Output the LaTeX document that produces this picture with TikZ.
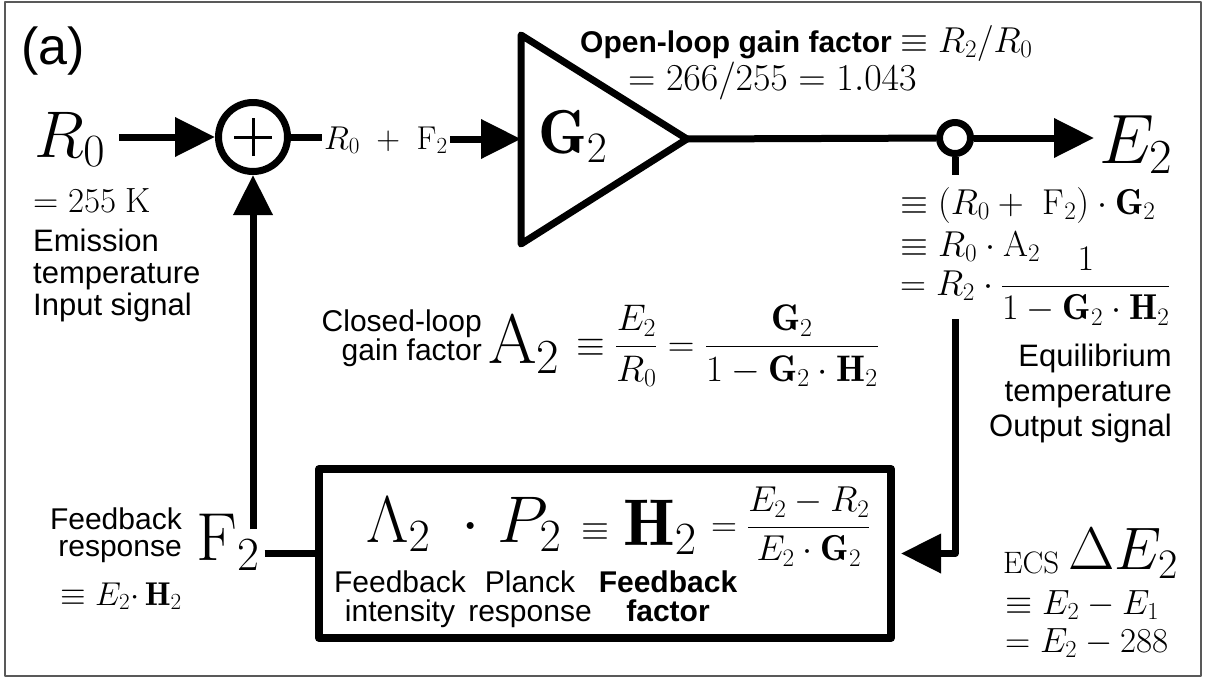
\RequirePackage{fix-cm}
\documentclass[tikz,border=0pt]{standalone}
\usepackage{amsmath}
\usepackage{fontspec}
\newfontfamily\labelfont{Liberation Sans}
\newcommand{\fsz}[1]{\fontsize{#1}{#1}\selectfont}
\usetikzlibrary{arrows.meta}

\begin{document}
\begin{tikzpicture}[x=1pt,y=-1pt,line join=round,
  >={Triangle[length=40pt,width=38pt]},
  every node/.style={inner sep=1pt},
  wire/.style={line width=7pt},
  flow/.style={line width=7pt,->},
  sans/.style={font=\labelfont\fontsize{30}{29}\selectfont},
  sansbf/.style={font=\labelfont\bfseries\fontsize{30}{29}\selectfont}]
  \useasboundingbox (0,0) rectangle (1205,680);
  \draw[black!65,line width=1.5pt] (5,2) rectangle (1201,676);

  % input side
  \node[font=\labelfont\fsz{52},anchor=base west] (tag) at (20,64) {(a)};
  \node[font=\fsz{66},anchor=base west,inner sep=0pt] (R0) at (34,157) {$R_0$};
  \node[font=\fsz{35},anchor=base west,inner sep=0pt] (R0val) at (33,212) {$=255\;\mathrm{K}$};
  \node[font=\labelfont\fontsize{31}{32}\selectfont,align=left,anchor=north west,inner sep=0pt] (R0txt) at (33,229) {Emission\\temperature\\Input signal};

  % summing point
  \node[circle,draw,line width=7pt,minimum size=69pt,inner sep=0pt] (sum) at (253,137) {};
  \draw[line width=3pt] ([xshift=-19pt]sum.center) -- ([xshift=19pt]sum.center)
    ([yshift=-19pt]sum.center) -- ([yshift=19pt]sum.center);
  \draw[flow] ([xshift=14pt]R0.east |- sum) -- (sum);
  \node[font=\fsz{33},anchor=base west,inner sep=2pt] (sumlbl) at (322,149) {$R_0\;+\;\mathrm{F}_2$};
  \draw[wire] (sum.east) -- (sum.east -| sumlbl.west);

  % open-loop gain
  \coordinate (ampin) at (521,139);
  \coordinate (amptip) at (687,139);
  \draw[wire] (521,35) -- (amptip) -- (521,244) -- cycle;
  \draw[flow] (sumlbl.east |- ampin) -- (ampin);
  \node[font=\fsz{62},anchor=base west] (G2) at (537,153) {$\mathbf{G}_2$};
  \node[anchor=base west,inner sep=0pt] (openlbl) at (580,52) {\labelfont\bfseries\fsz{30}Open-loop gain factor\;\fsz{36}$\equiv R_2/R_0$};
  \node[font=\fsz{38},anchor=base west,inner sep=0pt] (openval) at (628,90) {$=266/255=1.043$};

  % output side
  \node[circle,draw,fill=white,line width=7pt,minimum size=31pt,inner sep=0pt] (tap) at (955,138) {};
  \draw[wire] (amptip) -- (tap);
  \node[font=\fsz{70},anchor=base west,inner sep=0pt] (E2) at (1099,163) {$E_2$};
  \draw[flow] (tap) -- ([xshift=-5pt]E2.west |- tap);
  \node[font=\fsz{36},anchor=base west,inner sep=0pt] (eqa) at (900,214) {$\equiv(R_0+\ \mathrm{F}_2)\cdot\mathbf{G}_2$};
  \node[font=\fsz{36},anchor=base west,inner sep=0pt] (eqb) at (900,256) {$\equiv R_0\cdot\mathrm{A}_2$};
  \node[font=\fsz{36},anchor=base west,inner sep=0pt] (eqc) at (900,295) {$=R_2\cdot\dfrac{1}{1-\mathbf{G}_2\cdot\mathbf{H}_2}$};
  \node[font=\labelfont\fontsize{31}{35}\selectfont,align=right,anchor=north east,inner sep=0pt] (eqtxt) at (1172,344) {Equilibrium\\temperature\\Output signal};

  % closed-loop gain
  \node[font=\labelfont\fontsize{30}{26}\selectfont,align=right,anchor=north east,inner sep=0pt] (cltxt) at (482,310) {Closed-loop\\gain factor};
  \node[font=\fsz{70},anchor=base west,inner sep=0pt] (A2) at (488,363) {$\mathrm{A}_2$};
  \node[font=\fsz{37},anchor=base west,inner sep=0pt] (A2eq) at (576,356) {$\equiv\dfrac{E_2}{R_0}=\dfrac{\mathbf{G}_2}{1-\mathbf{G}_2\cdot\mathbf{H}_2}$};

  % feedback block
  \node[draw,line width=8pt,minimum width=572pt,minimum height=169pt,inner sep=0pt] (fb) at (605,553.5) {};
  \draw[wire] (tap) -- ([yshift=12pt]tap |- eqa.north);
  \draw[flow] ([yshift=6pt]tap |- eqc.south) |- ([xshift=6pt]fb.east);
  \node[font=\fsz{66},anchor=base west,inner sep=0pt] (lam) at (366,542) {$\Lambda_2$};
  \node[font=\fsz{66},anchor=base west,inner sep=0pt] (pp) at (461,542) {$\cdot\;P_2$};
  \node[font=\fsz{36},anchor=base west,inner sep=0pt] (hdef) at (581,540) {$\equiv$};
  \node[font=\fsz{66},anchor=base west,inner sep=0pt] (hh) at (623,545) {$\mathbf{H}_2$};
  \node[font=\fsz{36},anchor=base west,inner sep=0pt] (hfrac) at (711,536) {$=\dfrac{E_2-R_2}{E_2\cdot\mathbf{G}_2}$};
  \node[sans,align=center,anchor=north,inner sep=0pt] (lamtxt) at (400,571) {Feedback\\intensity};
  \node[sans,align=center,anchor=north,inner sep=0pt] (pptxt) at (530,571) {Planck\\response};
  \node[sansbf,align=center,anchor=north,inner sep=0pt] (hhtxt) at (668,571) {Feedback\\factor};

  % feedback signal
  \node[font=\fsz{68},anchor=base west,inner sep=0pt] (F2) at (196,560) {$\mathrm{F}_2$};
  \draw[wire] ([xshift=5pt]F2.east |- fb.west) -- (fb.west);
  \draw[flow] ([yshift=-16pt]sum |- F2.north) -- (sum);
  \node[font=\labelfont\fontsize{30}{27}\selectfont,align=right,anchor=north east,inner sep=0pt] (F2txt) at (182,508) {Feedback\\response};
  \node[font=\fsz{33},anchor=base east,inner sep=0pt] (F2eq) at (182,605) {$\equiv E_2{\cdot}\,\mathbf{H}_2$};

  % climate sensitivity
  \node[font=\fsz{31},anchor=base west,inner sep=0pt] (ecs) at (1003,573) {$\mathrm{ECS}$};
  \node[font=\fsz{60},anchor=base west,inner sep=0pt] (dE2) at (1068,569) {$\Delta E_2$};
  \node[font=\fsz{35},anchor=base west,inner sep=0pt] (ecsa) at (1005,614) {$\equiv E_2-E_1$};
  \node[font=\fsz{35},anchor=base west,inner sep=0pt] (ecsb) at (1005,652) {$=E_2-288$};
\end{tikzpicture}
\end{document}
